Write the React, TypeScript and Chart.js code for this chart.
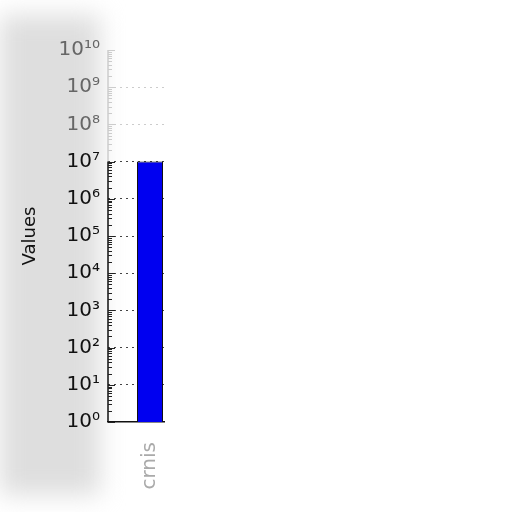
import { useRef, useEffect } from "react"
import { Chart, registerables } from "chart.js"

Chart.register(...registerables)

const categories = ["", "crnis"]
const values = [null, 1e7]
const decades = [0, 1, 2, 3, 4, 5, 6, 7, 8, 9, 10]
const fadeAbove = 1e7

const sup: Record<string, string> = {
  "0": "\u2070", "1": "\u00b9", "2": "\u00b2", "3": "\u00b3", "4": "\u2074",
  "5": "\u2075", "6": "\u2076", "7": "\u2077", "8": "\u2078", "9": "\u2079",
}
const pow10 = (n: number) => "10" + String(n).split("").map((c) => sup[c]).join("")

const isDecade = (v: number) => {
  const l = Math.log10(v)
  return Math.abs(l - Math.round(l)) < 1e-9
}

// left spine and inward ticks, like matplotlib (faded above the bar top)
const innerTicks = {
  id: "innerTicks",
  afterDatasetsDraw(chart: Chart) {
    const y = chart.scales.y
    const { left, bottom, top } = chart.chartArea
    const ctx = chart.ctx
    const fadeY = y.getPixelForValue(fadeAbove)
    ctx.save()
    ctx.lineWidth = 1.5
    ctx.strokeStyle = "#ccc"
    ctx.beginPath()
    ctx.moveTo(left, top)
    ctx.lineTo(left, fadeY)
    ctx.stroke()
    ctx.strokeStyle = "#111"
    ctx.beginPath()
    ctx.moveTo(left, fadeY)
    ctx.lineTo(left, bottom)
    ctx.stroke()
    ctx.lineWidth = 1
    for (const d of decades) {
      for (let m = 1; m <= 9; m++) {
        const v = m * Math.pow(10, d)
        if (v > 1e10) break
        const py = Math.round(y.getPixelForValue(v)) + 0.5
        const len = m === 1 ? 7 : 4
        ctx.strokeStyle = v > fadeAbove ? "#ccc" : "#222"
        ctx.beginPath()
        ctx.moveTo(left, py)
        ctx.lineTo(left + len, py)
        ctx.stroke()
      }
    }
    ctx.restore()
  },
}

export default function App() {
  const canvasRef = useRef<HTMLCanvasElement>(null)
  const chartRef = useRef<Chart | null>(null)

  useEffect(() => {
    if (!canvasRef.current) return
    if (chartRef.current) chartRef.current.destroy()

    chartRef.current = new Chart(canvasRef.current, {
      type: "bar",
      data: {
        labels: categories,
        datasets: [
          {
            label: "Values",
            data: values,
            backgroundColor: "#0000f0",
            borderColor: "#111",
            borderWidth: 1,
            barPercentage: 0.93,
            categoryPercentage: 1,
          },
        ],
      },
      options: {
        animation: false,
        responsive: false,
        layout: { padding: { left: 20, right: 348, top: 50, bottom: 0 } },
        plugins: { legend: { display: false }, tooltip: { enabled: false } },
        scales: {
          x: {
            grid: { display: false },
            border: { color: "#111", width: 1.5 },
            afterFit: (scale: any) => {
              scale.height = 90
            },
            ticks: {
              color: "#aaa",
              font: { family: "DejaVu Sans", size: 20 },
              minRotation: 90,
              maxRotation: 90,
              padding: 12,
            },
          },
          y: {
            type: "logarithmic",
            min: 1,
            max: 1e10,
            border: { display: false, dash: [2, 4] },
            grid: {
              color: (ctx: any) => {
                const v = ctx.tick ? ctx.tick.value : 0
                if (!isDecade(v) || v <= 1 || v >= 1e10) return "transparent"
                return v > fadeAbove ? "#ccc" : "#444"
              },
              lineWidth: 1,
              drawTicks: false,
            },
            afterBuildTicks: (scale: any) => {
              scale.ticks = decades.map((d) => ({ value: Math.pow(10, d) }))
            },
            afterFit: (scale: any) => {
              scale.width = 88
            },
            ticks: {
              callback: (v: any) => pow10(Math.round(Math.log10(Number(v)))),
              color: (ctx: any) => (ctx.tick && ctx.tick.value >= 1e8 ? "#666" : "#111"),
              font: { family: "DejaVu Sans", size: 20 },
              padding: 8,
            },
            title: {
              display: true,
              text: "Values",
              color: "#111",
              font: { family: "DejaVu Sans", size: 18 },
              padding: { top: 0, bottom: 0 },
            },
          },
        },
      },
      plugins: [innerTicks],
    })

    return () => {
      if (chartRef.current) chartRef.current.destroy()
      chartRef.current = null
    }
  }, [])

  return (
    <div style={{ position: "fixed", left: 0, top: 0, width: 512, height: 512, background: "#fff" }}>
      <div
        style={{
          position: "absolute",
          left: 0,
          top: 15,
          width: 100,
          height: 480,
          background: "#dedede",
          filter: "blur(12px)",
        }}
      />
      <canvas ref={canvasRef} width={512} height={512} style={{ position: "absolute", left: 0, top: 0 }} />
    </div>
  )
}
